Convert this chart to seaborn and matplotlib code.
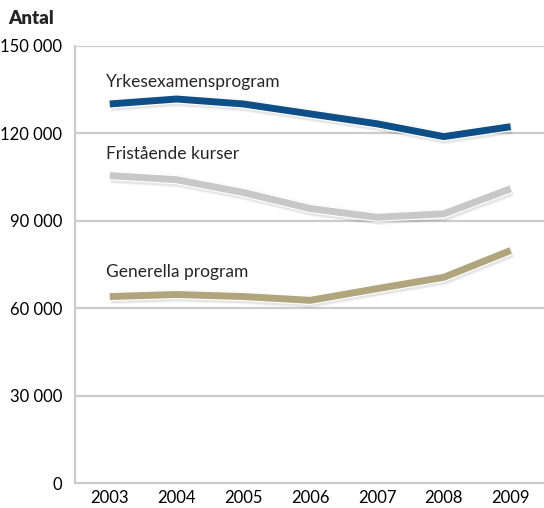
import matplotlib
matplotlib.use("Agg")
import matplotlib.pyplot as plt
import matplotlib.patheffects as pe
import seaborn as sns
import pandas as pd

years = [2003, 2004, 2005, 2006, 2007, 2008, 2009]
yrkes = [130100, 131800, 130100, 126700, 123300, 118900, 122300]
fristaende = [105500, 104100, 99700, 94200, 91200, 92400, 101000]
generella = [64000, 64700, 64000, 62700, 66700, 70600, 79800]
series_names = ["Yrkesexamensprogram", "Fristående kurser", "Generella program"]
yticks = [0, 30000, 60000, 90000, 120000, 150000]

df = pd.DataFrame({"År": years * 3,
                   "Antal": yrkes + fristaende + generella,
                   "Serie": [s for s in series_names for _ in years]})

sns.set_style("white")
plt.rcParams['font.family'] = ['Lato', 'DejaVu Sans']

fig = plt.figure(figsize=(5.44, 5.08), dpi=100)
ax = fig.add_axes([75/544, 25/508, 1 - 75/544, (483-46)/508])

palette = {"Yrkesexamensprogram": "#0e4f88",
           "Fristående kurser": "#c8c8c8",
           "Generella program": "#b0a57c"}

for y in yticks[1:]:
    ax.axhline(y, color="#cccccc", lw=1.6, zorder=0)

sns.lineplot(data=df, x="År", y="Antal", hue="Serie", palette=palette,
             linewidth=5, legend=False, ax=ax, zorder=3)
for line in ax.get_lines()[-3:]:
    line.set_solid_capstyle("butt")
    line.set_path_effects([
        pe.SimpleLineShadow(offset=(0.8, -1.0), shadow_color="#000000", alpha=0.05, linewidth=9),
        pe.SimpleLineShadow(offset=(0.8, -1.0), shadow_color="#000000", alpha=0.05, linewidth=7.5),
        pe.Stroke(linewidth=6.6, foreground="white"),
        pe.Normal()])

ax.set_xlim(2002.48, 2009.5)
ax.set_ylim(0, 150000)
ax.set_xticks(years)
ax.set_xticklabels([str(y) for y in years])
ax.set_yticks(yticks)
ax.set_yticklabels([f"{v:,}".replace(",", " ") for v in yticks])
ax.tick_params(axis="both", labelsize=12, colors="black")
ax.tick_params(axis="x", direction="in", length=6, width=1.6, color="#cccccc", pad=5)
ax.tick_params(axis="y", length=0, pad=9)
ax.set_xlabel("")
ax.set_ylabel("")
for s in ["top", "right"]:
    ax.spines[s].set_visible(False)
for s in ["left", "bottom"]:
    ax.spines[s].set_color("#cccccc")
    ax.spines[s].set_linewidth(1.6)

ax.text(2003.0 - 0.05, 137500, "Yrkesexamensprogram", fontsize=12.5, va="center", ha="left")
ax.text(2003.0 - 0.05, 113000, "Fristående kurser", fontsize=12.5, va="center", ha="left")
ax.text(2003.0 - 0.05, 72500, "Generella program", fontsize=12.5, va="center", ha="left")
fig.text(8/544, 1 - 19/508, "Antal", fontsize=13.5, fontweight="heavy", va="center", ha="left")

fig.savefig("out.png", dpi=100)
